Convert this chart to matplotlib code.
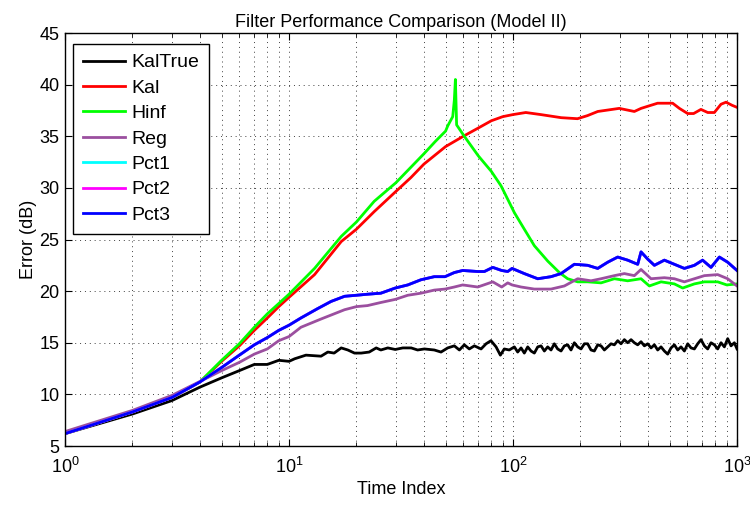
import matplotlib
matplotlib.use('Agg')
import matplotlib.pyplot as plt

plt.rcParams['font.family'] = ['Liberation Sans', 'DejaVu Sans']

# ---- data (time index, error in dB) ----
t_kaltrue = [1, 2, 3, 4, 5, 6, 7, 8, 9, 10, 10.6, 11.9, 13.9, 14.9, 15.9, 17.1, 18.3, 19.6,
             21, 22.8, 24.5, 25.7, 27.6, 29.8, 32.2, 35.1, 37.5, 40.2, 44.5, 47.7, 51.1,
             54.7, 57.6, 60.6, 63.8, 67.2, 72, 75.8, 79.7, 84, 87.8, 91.4, 96.2,
             101.4, 104.9, 108.6, 112.3, 116.3, 120.3, 124.5, 128.9, 133.4, 138.0, 142.8,
             147.8, 152.9, 158.2, 163.8, 169.5, 175.4, 181.5, 187.8, 194.4, 201.2, 208.2,
             215.4, 222.9, 230.7, 238.8, 247.1, 255.7, 264.6, 273.8, 283.4, 293.3, 303.5,
             314.1, 325.0, 336.4, 348.1, 360.2, 372.8, 385.8, 399.3, 413.2, 427.6, 442.4,
             457.9, 473.8, 490.3, 507.5, 525.1, 543.4, 562.3, 582.0, 602.3, 623.2, 645.0,
             667.4, 690.7, 714.8, 739.6, 765.5, 792.2, 819.8, 848.4, 878.0, 908.5, 940.2,
             973.0, 1000]
kaltrue = [6.2, 8.1, 9.4, 10.7, 11.6, 12.3, 12.9, 12.9, 13.3, 13.2, 13.45, 13.8, 13.7, 14.1,
           14.0, 14.5, 14.3, 14.0, 14.0, 14.1, 14.5, 14.3, 14.5, 14.35, 14.5, 14.5, 14.3,
           14.4, 14.3, 14.1, 14.5, 14.7, 14.3, 14.8, 14.4, 14.7, 14.4, 14.9, 15.2, 14.6,
           13.8, 14.4, 14.3,
           14.6, 14.1, 14.5, 14.0, 14.6, 14.2, 14.0, 14.6, 14.7, 14.2, 14.6, 14.3, 14.9,
           14.4, 14.2, 14.7, 14.8, 14.3, 15.0, 14.6, 14.4, 14.9, 14.9, 14.3, 14.2, 14.8,
           14.7, 14.3, 14.6, 14.9, 14.8, 15.2, 14.9, 15.3, 15.0, 15.3, 15.0, 14.8, 15.1,
           14.7, 14.9, 14.5, 14.8, 14.3, 14.6, 14.2, 13.9, 14.5, 14.8, 14.3, 14.6, 14.2,
           14.9, 14.5, 14.4, 14.9, 15.3, 14.7, 14.4, 15.0, 14.8, 14.4, 15.0, 14.6, 15.4,
           14.7, 15.0, 14.4]

t_kal = [1, 2, 3, 4, 5, 6, 7, 8, 9, 10, 13, 17.1, 20, 24, 29.8, 35, 40, 50, 60, 70, 80, 90,
         100, 114, 133, 164, 194, 215, 239, 298, 348, 373, 399, 442, 516, 553, 602, 640,
         690, 740, 792, 848, 893, 950, 1000]
kal = [6.2, 8.3, 9.7, 11.2, 13.2, 14.7, 16.2, 17.4, 18.5, 19.4, 21.6, 24.8, 26.0, 27.7,
       29.6, 31.0, 32.3, 34.0, 35.0, 35.8, 36.5, 36.9, 37.1, 37.3, 37.1, 36.8, 36.7, 37.0,
       37.4, 37.7, 37.4, 37.7, 37.9, 38.2, 38.2, 37.7, 37.2, 37.2, 37.6, 37.3, 37.3, 38.1,
       38.3, 38.0, 37.8]

t_hinf = [1, 2, 3, 4, 5, 6, 7, 8, 9, 10, 13, 17.1, 20, 24, 30, 35, 40, 45, 50, 51.1, 53.8,
          54.7, 55.3, 56.0, 60.6, 70, 80, 88.4, 101.4, 112.3, 124.5, 143, 161, 175.4,
          194.4, 215.4, 247.1, 283.4, 325, 372.8, 406, 457.9, 525.1, 572, 645, 714.8,
          819.8, 900, 1000]
hinf = [6.2, 8.3, 9.7, 11.2, 13.3, 14.9, 16.5, 17.8, 18.8, 19.7, 22.2, 25.3, 26.7, 28.7,
        30.5, 32.0, 33.3, 34.5, 35.5, 36.0, 36.9, 38.5, 40.5, 36.1, 35.0, 33.1, 31.6, 30.2,
        27.6, 26.0, 24.4, 22.9, 21.8, 21.2, 20.9, 20.9, 20.8, 21.2, 21.0, 21.2, 20.5, 20.9,
        20.7, 20.3, 20.7, 20.9, 20.9, 20.6, 20.7]

t_reg = [1, 2, 3, 4, 5, 6, 7, 8, 9, 10, 11.3, 13.9, 17.7, 20, 22.4, 25.7, 29.8, 33.9, 38.8,
         44.5, 49.7, 54.7, 59.6, 69.6, 81.2, 89, 94.7, 99, 108.6, 124.5, 147.8, 169.5,
         194.4, 222.9, 247.1, 283.4, 314.1, 348.1, 372.8, 413.2, 473.8, 525.1, 582, 645,
         714.8, 819.8, 908.5, 1000]
reg = [6.4, 8.45, 9.9, 11.25, 12.3, 13.1, 13.9, 14.4, 15.2, 15.6, 16.5, 17.3, 18.2, 18.5,
       18.6, 18.9, 19.2, 19.6, 19.8, 20.1, 20.2, 20.4, 20.6, 20.4, 20.9, 20.4, 20.8, 20.6,
       20.4, 20.2, 20.2, 20.5, 21.2, 21.0, 21.2, 21.5, 21.7, 21.5, 22.1, 21.2, 21.3, 21.2,
       20.9, 21.2, 21.5, 21.6, 21.2, 20.5]

t_pct = [1, 2, 3, 4, 5, 6, 7, 8, 9, 10, 11.3, 13.4, 15.4, 17.7, 20, 22.4, 25.7, 29.8, 33.9,
         38.8, 44.5, 49.7, 54.7, 59.6, 69.6, 74.5, 81.2, 89, 94.7, 99, 112.3, 128.9, 147.8,
         163.8, 187.8, 215.4, 238.8, 264.6, 293.3, 325, 360.2, 372.8, 399.3, 427.6, 473.8,
         525.1, 582, 645, 702, 765.5, 834, 908.5, 1000]
pct3 = [6.2, 8.3, 9.7, 11.2, 12.6, 13.8, 14.8, 15.5, 16.2, 16.7, 17.4, 18.3, 19.0, 19.5,
        19.6, 19.7, 19.8, 20.3, 20.6, 21.1, 21.4, 21.4, 21.8, 22.0, 21.9, 21.9, 22.3, 22.0,
        21.9, 22.2, 21.7, 21.2, 21.4, 21.7, 22.6, 22.5, 22.2, 22.8, 23.3, 23.0, 22.6, 23.8,
        23.1, 22.5, 23.0, 22.6, 22.2, 22.5, 23.0, 22.3, 23.3, 22.8, 22.0]
pct1 = pct3
pct2 = pct3

labels = ['KalTrue', 'Kal', 'Hinf', 'Reg', 'Pct1', 'Pct2', 'Pct3']
colors = ['k', '#ff0000', '#00ff00', '#9b4f9f', '#00ffff', '#ff00ff', '#0000ff']

fig = plt.figure(figsize=(7.5, 5.07), dpi=100)
ax = fig.add_axes([0.0867, 0.1203, 0.896, 0.8146])

series = [(t_kaltrue, kaltrue), (t_kal, kal), (t_hinf, hinf), (t_reg, reg),
          (t_pct, pct1), (t_pct, pct2), (t_pct, pct3)]
for (tt, yy), lab, c in zip(series, labels, colors):
    ax.plot(tt, yy, color=c, lw=2, label=lab)

ax.set_xscale('log')
ax.set_xlim(1, 1000)
ax.set_ylim(5, 45)
ax.set_yticks(range(5, 46, 5))

ax.grid(True, which='major', color='0.25', linestyle=(0, (1, 4)), lw=0.7)
ax.grid(True, which='minor', axis='x', color='0.25', linestyle=(0, (1, 4)), lw=0.7)
ax.tick_params(which='both', direction='in', top=True, right=True, labelsize=13)
ax.tick_params(axis='x', which='major', pad=8)
ax.tick_params(axis='y', which='major', pad=4)
ax.tick_params(which='major', length=5)
ax.tick_params(which='minor', length=3)
for s in ax.spines.values():
    s.set_linewidth(1.0)

ax.set_xlabel('Time Index', fontsize=13, labelpad=3)
ax.set_ylabel('Error (dB)', fontsize=13, labelpad=2)
ax.set_title('Filter Performance Comparison (Model II)', fontsize=13, pad=4)

leg = ax.legend(loc='upper left', bbox_to_anchor=(0.012, 0.973), borderaxespad=0,
                fontsize=14, fancybox=False, framealpha=1, edgecolor='k',
                handlelength=2.15, handletextpad=0.36, labelspacing=0.4, borderpad=0.5)
leg.get_frame().set_linewidth(1.0)

fig.savefig('out.png', dpi=100)
